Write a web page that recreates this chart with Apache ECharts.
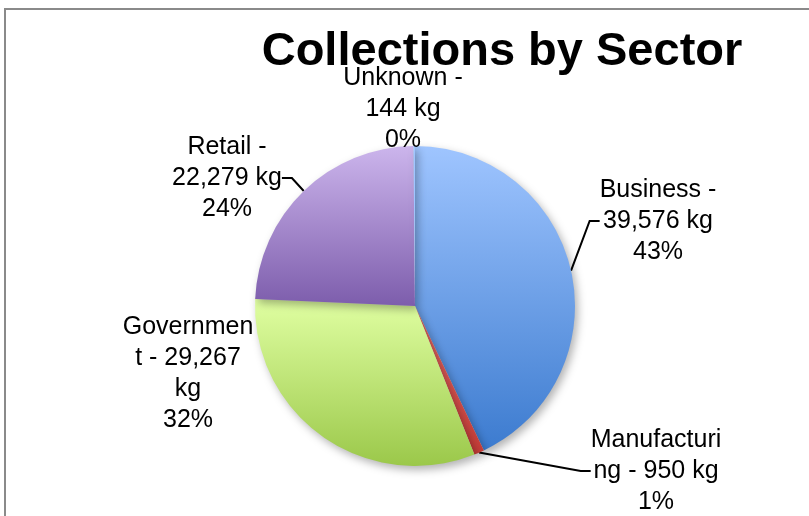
<!DOCTYPE html>
<html>
<head>
<meta charset="utf-8">
<script src="https://cdn.jsdelivr.net/npm/echarts@6/dist/echarts.min.js"></script>
<style>
html,body{margin:0;padding:0;background:#fff;}
#chart{width:809px;height:516px;}
</style>
</head>
<body>
<div id="chart"></div>
<script>
// ---- data ----
var titleText = 'Collections by Sector';
var categories = ['Business', 'Manufacturing', 'Government', 'Retail', 'Unknown'];
var values = [39576, 950, 29267, 22279, 144];
var unit = 'kg';

// ---- styling (kept separate from data) ----
var gradients = [
  ['#9fc5ff', '#3c7bcf'],
  ['#e86a66', '#c23b36'],
  ['#e0ffa2', '#9bc84a'],
  ['#ccb5ec', '#7d5dac'],
  ['#9fc5ff', '#9fc5ff']
];
// where the label text is wrapped (character indices into "name - value kg")
var labelBreaks = [[10], [11], [9, 19], [8], [9]];
// label centres in pixels
var labelPos = [[658, 221], [656, 471], [188, 374], [227, 178], [403, 109]];
var showLine = [true, true, false, true, false];

function fmt(n) { return n.toLocaleString('en-US'); }

var chart = echarts.init(document.getElementById('chart'));
var data = categories.map(function (c, i) {
  return {
    name: c,
    value: values[i],
    itemStyle: {
      color: new echarts.graphic.LinearGradient(0, 0, 0, 1, [
        { offset: 0, color: gradients[i][0] },
        { offset: 1, color: gradients[i][1] }
      ])
    },
    labelLine: { show: showLine[i] }
  };
});

chart.setOption({
  animation: false,
  backgroundColor: '#ffffff',
  title: {
    text: titleText,
    left: 497,
    textAlign: 'center',
    top: 24,
    textStyle: { fontFamily: 'Liberation Sans', fontSize: 47, fontWeight: 'bold', color: '#000' }
  },
  graphic: [{
    type: 'rect',
    shape: { x: 5, y: 9, width: 900, height: 600 },
    style: { fill: 'none', stroke: '#8a8a8a', lineWidth: 2 },
    z: -1
  }],
  series: [{
    type: 'pie',
    center: [415, 306],
    radius: [0, 160],
    startAngle: 90,
    clockwise: true,
    avoidLabelOverlap: false,
    data: data,
    itemStyle: {
      shadowBlur: 8,
      shadowOffsetX: 3,
      shadowOffsetY: 4,
      shadowColor: 'rgba(0,0,0,0.3)'
    },
    label: {
      show: true,
      position: 'outside',
      fontFamily: 'Liberation Sans',
      fontSize: 25,
      lineHeight: 31,
      color: '#000',
      align: 'center',
      formatter: function (p) {
        var s = p.name + ' - ' + fmt(p.value) + ' ' + unit;
        var br = labelBreaks[p.dataIndex];
        var parts = [], last = 0;
        br.forEach(function (b) { parts.push(s.slice(last, b).trim()); last = b; });
        parts.push(s.slice(last).trim());
        return parts.join('\n') + '\n' + Math.round(p.percent) + '%';
      }
    },
    labelLine: {
      show: true,
      length: 10,
      length2: 10,
      lineStyle: { color: '#000', width: 2 }
    },
    labelLayout: function (params) {
      var pos = labelPos[params.dataIndex];
      return { x: pos[0], y: pos[1], align: 'center', verticalAlign: 'middle' };
    }
  }]
});
</script>
</body>
</html>
